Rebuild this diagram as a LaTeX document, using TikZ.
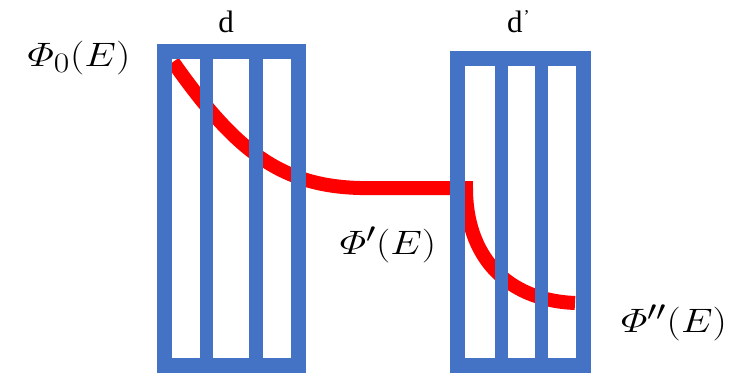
\documentclass[tikz,border=0pt]{standalone}
\usepackage{amsmath}
\usepackage{graphicx}
\usepackage{fontspec}
\newfontfamily\dfont{Liberation Serif}
\definecolor{boxblue}{HTML}{4472C4}
\definecolor{fluxred}{HTML}{FF0000}
\newcommand{\biglbl}[1]{\scalebox{1.62}[1.36]{\fontsize{24.88}{30}\selectfont #1}}
\begin{document}
\begin{tikzpicture}[x=1pt,y=-1pt,
  wall/.style={draw=boxblue,line width=15pt},
  bar/.style={draw=boxblue,line width=13.5pt},
  flux/.style={draw=fluxred,line width=14pt},
  mathlbl/.style={inner sep=0pt},
  dlbl/.style={inner sep=0pt,font=\dfont\fontsize{31}{36}\selectfont}]
\useasboundingbox (0,0) rectangle (748,376);
% red flux curve (under the boxes)
\coordinate (s0) at (173,62);
\coordinate (m1) at (360,188);
\coordinate (m2) at (466,188);
\coordinate (e2) at (575,303);
\draw[flux] (s0) .. controls (235,150) and (280,186) .. (m1) -- (m2)
  .. controls (466,255) and (505,300) .. (e2);
% left box
\draw[wall] (164.5,51.5) rectangle (298.5,365.5);
\draw[bar] (206.5,51.5) -- (206.5,365.5);
\draw[bar] (256,51.5) -- (256,365.5);
% right box
\draw[wall] (457.5,58) rectangle (583,365.5);
\draw[bar] (501.5,58) -- (501.5,365.5);
\draw[bar] (541.5,58) -- (541.5,365.5);
% labels
\node[dlbl,anchor=base] (d1) at (226,32) {d};
\node[dlbl,anchor=base west] (d2) at (507,32) {d\kern1pt\raisebox{10pt}{\fontsize{18}{20}\selectfont’}};
\node[mathlbl] (p0) at (79,58) {\biglbl{$\varPhi_0(E)$}};
\node[mathlbl] (p1) at (388,245) {\biglbl{$\varPhi'(E)$}};
\node[mathlbl] (p2) at (674,323) {\biglbl{$\varPhi''(E)$}};
\end{tikzpicture}
\end{document}
